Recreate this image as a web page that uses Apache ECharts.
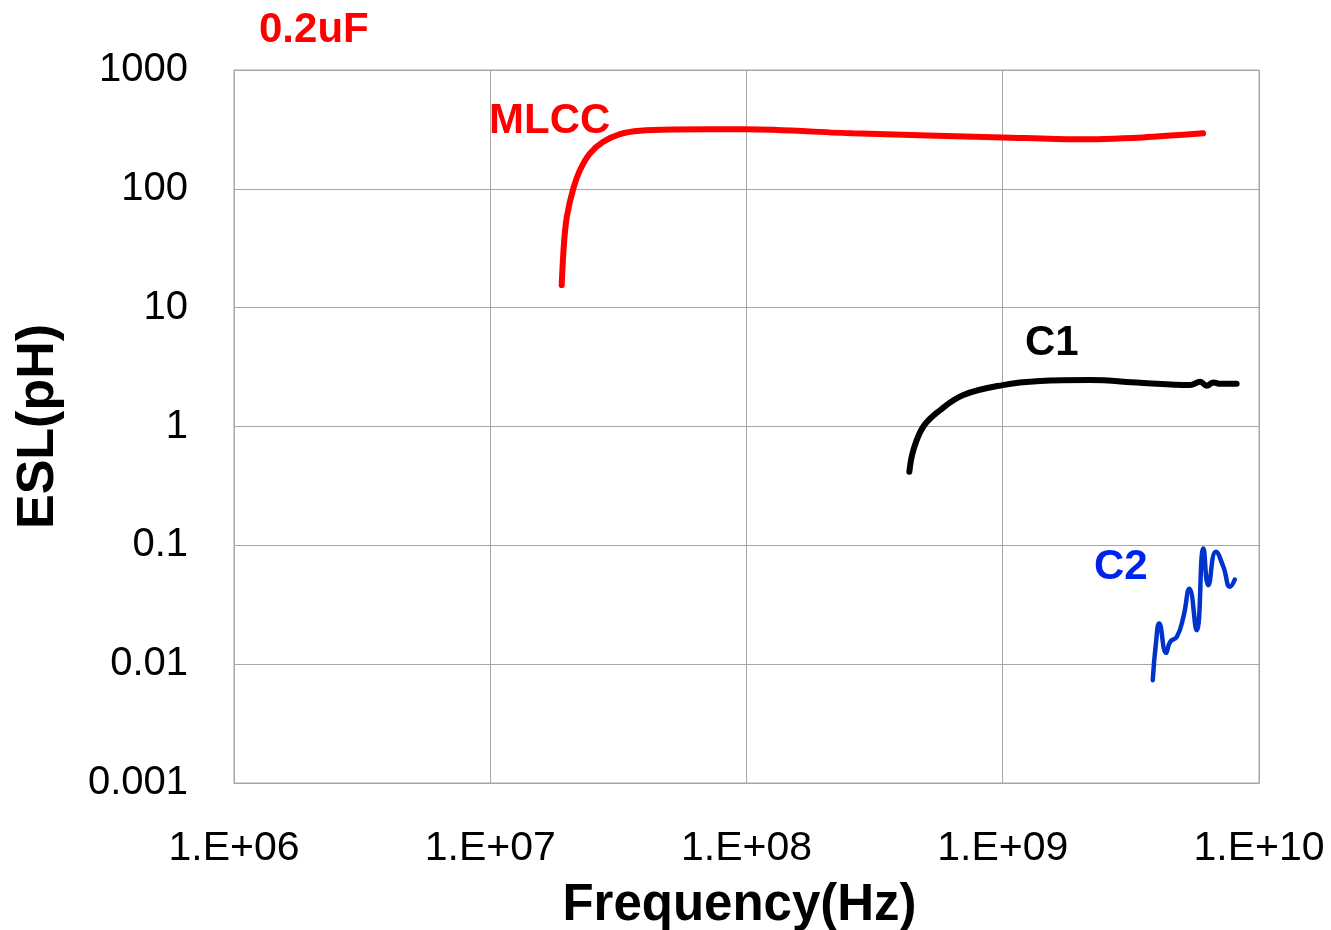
<!DOCTYPE html>
<html>
<head>
<meta charset="utf-8">
<script src="https://cdn.jsdelivr.net/npm/echarts@6/dist/echarts.min.js"></script>
<style>html,body{margin:0;padding:0;background:#fff}#c{width:1331px;height:930px}</style>
</head>
<body>
<div id="c"></div>
<script>
const yTicks = [0.001, 0.01, 0.1, 1, 10, 100, 1000];
const xTicks = ['1.E+06', '1.E+07', '1.E+08', '1.E+09', '1.E+10'];

const freqMLCC = [1.90e7, 1.94e7, 1.99e7, 2.11e7, 2.24e7, 2.45e7, 2.76e7, 3.21e7, 3.84e7, 5.18e7, 1.0e8, 2.6e8, 1.0e9, 1.93e9, 3.52e9, 6.05e9];
const eslMLCC  = [15.5, 34.8, 58.2, 101, 144, 199, 249, 289, 308, 315, 317, 293, 271, 261, 271, 293];

const freqC1 = [4.32e8, 4.48e8, 4.9e8, 5.69e8, 7.02e8, 1.0e9, 1.40e9, 2.19e9, 3.44e9, 5.38e9, 5.89e9, 6.25e9, 6.64e9, 7.05e9, 8.18e9];
const eslC1  = [0.416, 0.633, 1.0, 1.37, 1.84, 2.23, 2.41, 2.46, 2.33, 2.23, 2.38, 2.2, 2.35, 2.29, 2.29];

const freqC2 = [3.85e9, 3.96e9, 4.08e9, 4.34e9, 4.50e9, 4.78e9, 5.07e9, 5.35e9, 5.71e9, 6.07e9, 6.34e9, 6.79e9, 7.26e9, 7.71e9, 8.05e9];
const eslC2  = [0.00733, 0.0149, 0.0220, 0.01245, 0.0154, 0.0170, 0.025, 0.0432, 0.0193, 0.0942, 0.0462, 0.0883, 0.066, 0.0448, 0.0516];

const zip = (a, b) => a.map((v, i) => [v, b[i]]);

const chart = echarts.init(document.getElementById('c'), null, {renderer: 'canvas'});
const FONT = '"Liberation Sans", Arial, sans-serif';
const gridColor = '#a6a6a6';

chart.setOption({
  animation: false,
  backgroundColor: '#fff',
  grid: {left: 234, right: 72, top: 70, bottom: 147, show: true, borderColor: gridColor, borderWidth: 1,
         containLabel: false, outerBoundsMode: 'none'},
  xAxis: {
    type: 'log', logBase: 10, min: 1e6, max: 1e10,
    name: 'Frequency(Hz)', nameLocation: 'middle', nameGap: 97,
    nameTextStyle: {fontFamily: FONT, fontSize: 51, fontWeight: 'bold', color: '#000', padding: [0, 14, 0, 0]},
    axisLine: {show: true, lineStyle: {color: gridColor, width: 1}},
    axisTick: {show: false},
    splitLine: {show: true, lineStyle: {color: gridColor, width: 1}},
    minorTick: {show: false},
    axisLabel: {
      margin: 45, fontFamily: FONT, fontSize: 41, color: '#000',
      formatter: v => xTicks[Math.round(Math.log10(v)) - 6]
    }
  },
  yAxis: {
    type: 'log', logBase: 10, min: 0.001, max: 1000,
    name: 'ESL(pH)', nameLocation: 'middle', nameGap: 169, nameRotate: 90,
    nameTextStyle: {fontFamily: FONT, fontSize: 52, fontWeight: 'bold', color: '#000'},
    axisLine: {show: true, lineStyle: {color: gridColor, width: 1}},
    axisTick: {show: false},
    splitLine: {show: true, lineStyle: {color: gridColor, width: 1}},
    axisLabel: {
      margin: 46, fontFamily: FONT, fontSize: 40, color: '#000',
      formatter: v => String(yTicks[Math.round(Math.log10(v)) + 3])
    }
  },
  series: [
    {type: 'line', name: 'MLCC', data: zip(freqMLCC, eslMLCC), smooth: 0.3, showSymbol: false,
     lineStyle: {color: '#ff0000', width: 6, cap: 'round'}},
    {type: 'line', name: 'C1', data: zip(freqC1, eslC1), smooth: 0.4, showSymbol: false,
     lineStyle: {color: '#000000', width: 6, cap: 'round'}},
    {type: 'line', name: 'C2', data: zip(freqC2, eslC2), smooth: 0.5, showSymbol: false,
     lineStyle: {color: '#0033cc', width: 4.5, cap: 'round'}}
  ],
  graphic: [
    {type: 'text', left: 259, top: 9, style: {text: '0.2uF', fill: '#ff0000', font: 'bold 42px ' + FONT}},
    {type: 'text', left: 489, top: 100, style: {text: 'MLCC', fill: '#ff0000', font: 'bold 42px ' + FONT}},
    {type: 'text', left: 1025, top: 322, style: {text: 'C1', fill: '#000000', font: 'bold 42px ' + FONT}},
    {type: 'text', left: 1094, top: 546, style: {text: 'C2', fill: '#0022ee', font: 'bold 42px ' + FONT}}
  ]
});
</script>
</body>
</html>
